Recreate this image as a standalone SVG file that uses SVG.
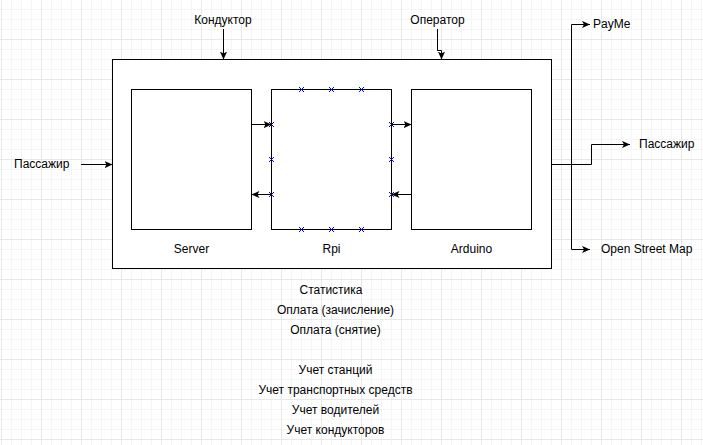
<svg xmlns="http://www.w3.org/2000/svg" width="703" height="445" viewBox="0 0 703 445">
<style>
text{font-family:"Liberation Sans",Arial,sans-serif;font-size:12px;fill:#000;}
.c{text-anchor:middle;}
.box{fill:#fff;stroke:#000;stroke-width:1;}
.ln{fill:none;stroke:#000;stroke-width:1;}
.x{fill:none;stroke:#0000ff;stroke-width:1;}
</style>
<defs>
<pattern id="grid" patternUnits="userSpaceOnUse" x="1" y="-1" width="40" height="40">
<rect x="0" y="0" width="40" height="40" fill="#fff"/>
<rect x="10" y="0" width="1" height="40" fill="#f5f5f5"/>
<rect x="20" y="0" width="1" height="40" fill="#f5f5f5"/>
<rect x="30" y="0" width="1" height="40" fill="#f5f5f5"/>
<rect x="0" y="10" width="40" height="1" fill="#f5f5f5"/>
<rect x="0" y="20" width="40" height="1" fill="#f5f5f5"/>
<rect x="0" y="30" width="40" height="1" fill="#f5f5f5"/>
<rect x="0" y="0" width="1" height="40" fill="#e8e8e8"/>
<rect x="0" y="0" width="40" height="1" fill="#e8e8e8"/>
</pattern>
<marker id="arr" viewBox="0 0 10 10" refX="10" refY="5" markerWidth="8" markerHeight="8" orient="auto" markerUnits="userSpaceOnUse">
<path d="M0,0.5 L10,5 L0,9.5 L2.5,5 Z" fill="#000"/>
</marker>
<path id="xm" d="M-2.5,-2.5 L2.5,2.5 M2.5,-2.5 L-2.5,2.5"/>
</defs>
<rect width="703" height="445" fill="url(#grid)"/>

<g id="outer"><rect class="box" x="112.5" y="59.5" width="439" height="209"/></g>

<g id="server">
<rect class="box" x="131.5" y="89.5" width="120" height="140"/>
<text class="c" x="191.5" y="253">Server</text>
</g>
<g id="rpi">
<rect class="box" x="271.5" y="89.5" width="120" height="140"/>
<text class="c" x="331.5" y="253">Rpi</text>
<g class="x">
<use href="#xm" x="301.5" y="89.5"/><use href="#xm" x="331.5" y="89.5"/><use href="#xm" x="361.5" y="89.5"/>
<use href="#xm" x="301.5" y="229.5"/><use href="#xm" x="331.5" y="229.5"/><use href="#xm" x="361.5" y="229.5"/>
<use href="#xm" x="271.5" y="124.5"/><use href="#xm" x="271.5" y="159.5"/><use href="#xm" x="271.5" y="194.5"/>
<use href="#xm" x="391.5" y="124.5"/><use href="#xm" x="391.5" y="159.5"/><use href="#xm" x="391.5" y="194.5"/>
</g>
</g>
<g id="arduino">
<rect class="box" x="411.5" y="89.5" width="120" height="140"/>
<text class="c" x="471.5" y="253">Arduino</text>
</g>

<g id="labels">
<text class="c" x="223" y="24">Кондуктор</text>
<text class="c" x="437.5" y="24">Оператор</text>
<text x="14" y="168">Пассажир</text>
<text x="593" y="28">PayMe</text>
<text x="639" y="148">Пассажир</text>
<text x="601" y="253">Open Street Map</text>
</g>

<g id="notes">
<text class="c" x="331" y="294">Статистика</text>
<text class="c" x="335.5" y="314">Оплата (зачисление)</text>
<text class="c" x="335.5" y="334">Оплата (снятие)</text>
<text class="c" x="335.5" y="374">Учет станций</text>
<text class="c" x="335.5" y="394">Учет транспортных средств</text>
<text class="c" x="335.5" y="414">Учет водителей</text>
<text class="c" x="335.5" y="434">Учет кондукторов</text>
</g>

<g id="connectors" class="ln">
<path class="ln" d="M251.5,124.5 L271.5,124.5" marker-end="url(#arr)"/>
<path class="ln" d="M271.5,194.5 L251.5,194.5" marker-end="url(#arr)"/>
<path class="ln" d="M391.5,124.5 L411.5,124.5" marker-end="url(#arr)"/>
<path class="ln" d="M411.5,194.5 L391.5,194.5" marker-end="url(#arr)"/>
<path class="ln" d="M223.5,29 L223.5,59.5" marker-end="url(#arr)"/>
<path class="ln" d="M437.5,29 L437.5,50.5 L441.5,50.5 L441.5,59.5" marker-end="url(#arr)"/>
<path class="ln" d="M81,164.5 L112.5,164.5" marker-end="url(#arr)"/>
<path class="ln" d="M551.5,164.5 L591.5,164.5 L591.5,144.5 L630,144.5" marker-end="url(#arr)"/>
<path class="ln" d="M551.5,164.5 L571.5,164.5 L571.5,24.5 L590,24.5" marker-end="url(#arr)"/>
<path class="ln" d="M571.5,164.5 L571.5,249.5 L590,249.5" marker-end="url(#arr)"/>
</g>
</svg>
